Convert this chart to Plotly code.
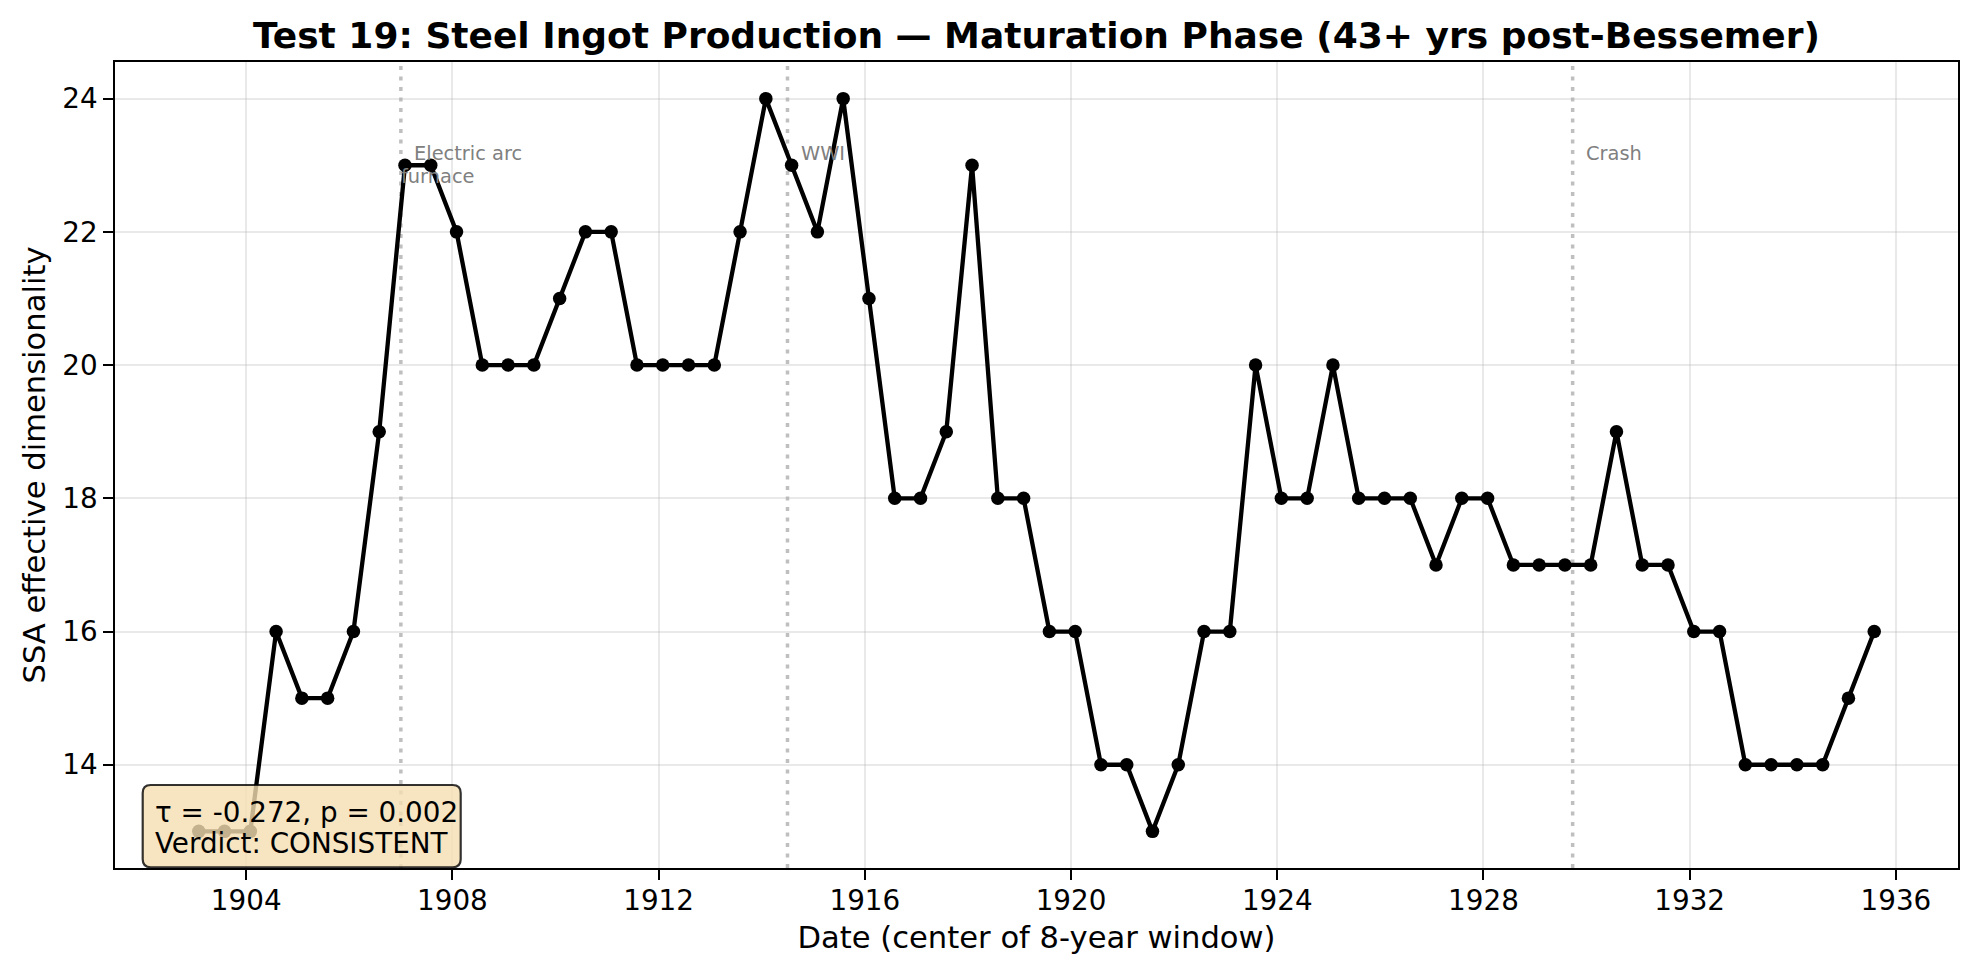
import plotly.graph_objects as go

# ---- data ----
dates = [1903.08, 1903.58, 1904.08, 1904.58, 1905.08, 1905.58, 1906.08, 1906.58, 1907.08, 1907.58,
         1908.08, 1908.58, 1909.08, 1909.58, 1910.08, 1910.58, 1911.08, 1911.58, 1912.08, 1912.58,
         1913.08, 1913.58, 1914.08, 1914.58, 1915.08, 1915.58, 1916.08, 1916.58, 1917.08, 1917.58,
         1918.08, 1918.58, 1919.08, 1919.58, 1920.08, 1920.58, 1921.08, 1921.58, 1922.08, 1922.58,
         1923.08, 1923.58, 1924.08, 1924.58, 1925.08, 1925.58, 1926.08, 1926.58, 1927.08, 1927.58,
         1928.08, 1928.58, 1929.08, 1929.58, 1930.08, 1930.58, 1931.08, 1931.58, 1932.08, 1932.58,
         1933.08, 1933.58, 1934.08, 1934.58, 1935.08, 1935.58]
ssa_dim = [13, 13, 13, 16, 15, 15, 16, 19, 23, 23,
           22, 20, 20, 20, 21, 22, 22, 20, 20, 20,
           20, 22, 24, 23, 22, 24, 21, 18, 18, 19,
           23, 18, 18, 16, 16, 14, 14, 13, 14, 16,
           16, 20, 18, 18, 20, 18, 18, 18, 17, 18,
           18, 17, 17, 17, 17, 19, 17, 17, 16, 16,
           14, 14, 14, 14, 15, 16]

event_dates = [1907.0, 1914.5, 1929.73]
event_lines1 = ["Electric arc", "WWI", "Crash"]
event_lines2 = ["furnace", "", ""]

x_ticks = [1904, 1908, 1912, 1916, 1920, 1924, 1928, 1932, 1936]
y_ticks = [14, 16, 18, 20, 22, 24]

stats_lines = ["τ = -0.272, p = 0.002", "Verdict: CONSISTENT"]

title = "Test 19: Steel Ingot Production — Maturation Phase (43+ yrs post-Bessemer)"
x_title = "Date (center of 8-year window)"
y_title = "SSA effective dimensionality"

# ---- figure ----
# the page body has an 8px default margin; size the figure to fit inside it
W, H = 1962, 961
ML, MR, MT, MB = 107, 12, 54, 101
FONT = "DejaVu Sans"

fig = go.Figure()
fig.add_trace(go.Scatter(
    x=dates, y=ssa_dim, mode="lines+markers",
    line=dict(color="black", width=4.3),
    marker=dict(color="black", size=13.5),
    showlegend=False, hoverinfo="x+y",
))

shapes = []
annotations = []
for d, l1, l2 in zip(event_dates, event_lines1, event_lines2):
    shapes.append(dict(type="line", xref="x", yref="paper", x0=d, x1=d, y0=0, y1=1,
                       line=dict(color="rgba(128,128,128,0.5)", width=3.5, dash="4px,6.5px"),
                       layer="below"))
    annotations.append(dict(x=d, y=23.17, xref="x", yref="y", text=l1, showarrow=False,
                            xanchor="left", yanchor="middle", xshift=11,
                            font=dict(family=FONT, size=19.4, color="#808080")))
    if l2:
        annotations.append(dict(x=d, y=22.83, xref="x", yref="y", text=l2, showarrow=False,
                                xanchor="left", yanchor="middle", xshift=-2,
                                font=dict(family=FONT, size=19.4, color="#808080")))

# rounded stats box (paper coords)
pw = W - ML - MR
ph = H - MT - MB
x0, x1 = 27.7 / pw, 345.7 / pw
y0, y1 = 0.7 / ph, 83.0 / ph
rx, ry = 8 / pw, 8 / ph
path = (f"M {x0+rx},{y0} L {x1-rx},{y0} Q {x1},{y0} {x1},{y0+ry} "
        f"L {x1},{y1-ry} Q {x1},{y1} {x1-rx},{y1} L {x0+rx},{y1} Q {x0},{y1} {x0},{y1-ry} "
        f"L {x0},{y0+ry} Q {x0},{y0} {x0+rx},{y0} Z")
shapes.append(dict(type="path", xref="paper", yref="paper", path=path,
                   fillcolor="rgba(245,222,179,0.8)",
                   line=dict(color="rgba(0,0,0,0.8)", width=2.2), layer="above"))
for txt, yc in zip(stats_lines, [56.0, 25.0]):
    annotations.append(dict(x=40 / pw, y=yc / ph, xref="paper", yref="paper", text=txt,
                            showarrow=False, xanchor="left", yanchor="middle",
                            borderpad=0, borderwidth=0,
                            font=dict(family=FONT, size=27.8, color="black")))

axis_common = dict(
    showline=True, mirror=True, linecolor="black", linewidth=2.2,
    ticks="outside", ticklen=9.7, tickwidth=2.2, tickcolor="black",
    showgrid=True, gridcolor="rgba(176,176,176,0.28)", gridwidth=1.6,
    zeroline=False,
    tickfont=dict(family=FONT, size=27.8, color="black"),
)

fig.update_layout(
    width=W, height=H,
    margin=dict(l=ML, r=MR, t=MT, b=MB, autoexpand=False),
    paper_bgcolor="white", plot_bgcolor="white",
    title=dict(text=title, x=0.5, xref="paper", y=1 - 27 / H, yref="container",
               xanchor="center", yanchor="middle",
               font=dict(family=FONT, size=36, color="black", weight="bold")),
    xaxis=dict(range=[1901.455, 1937.205], tickvals=x_ticks, ticklabelstandoff=-3,
               title=dict(text=x_title, font=dict(family=FONT, size=30.6, color="black"), standoff=10),
               **axis_common),
    yaxis=dict(range=[12.45, 24.55], tickvals=y_ticks,
               title=dict(text=y_title, font=dict(family=FONT, size=30.6, color="black"), standoff=8),
               **axis_common),
    shapes=shapes, annotations=annotations,
    font=dict(family=FONT),
)

fig.write_html("out.html")
